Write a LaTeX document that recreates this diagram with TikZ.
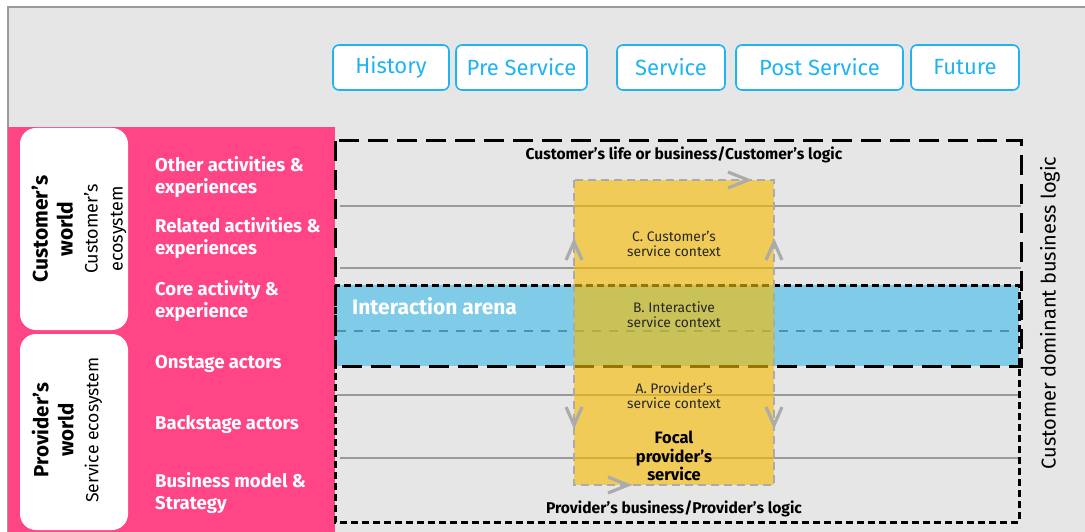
\documentclass[tikz,border=0pt]{standalone}
\usepackage{fontspec}
\setmainfont{Fira Sans}
\definecolor{bgc}{HTML}{E6E6E6}
\definecolor{pinkc}{HTML}{FF4586}
\definecolor{cyanc}{HTML}{1EB4F2}
\definecolor{bluec}{HTML}{80CCE8}
\definecolor{yelc}{HTML}{F7BC00}
\definecolor{greyc}{HTML}{ABABAB}
\definecolor{tealc}{HTML}{4B93AD}
\definecolor{linec}{HTML}{9A9A9A}
\tikzset{
  pinklabel/.style={text=white, font=\fontsize{18.5}{22}\selectfont\bfseries, anchor=west, align=left, inner sep=0pt},
  btn/.style={draw=cyanc, line width=1.6pt, fill=white, rounded corners=6pt, minimum height=45pt, text=cyanc, font=\fontsize{22}{26}\selectfont, inner sep=0pt},
  whitebox/.style={fill=white, rounded corners=16pt, inner sep=0pt},
  ctx/.style={font=\fontsize{13.8}{15}\selectfont, align=center, text=black!85, inner sep=0pt},
  gridline/.style={draw=linec, line width=1.4pt},
  longdash/.style={draw=black, line width=3pt, dash pattern=on 20pt off 9pt},
  shortdash/.style={draw=black, line width=3pt, dash pattern=on 7pt off 4pt},
  chevron/.style={draw=greyc, line width=3.2pt},
  logictext/.style={font=\fontsize{15.6}{18}\selectfont\bfseries, inner sep=0pt}
}
\begin{document}
\begin{tikzpicture}[x=1pt,y=-1pt]
\useasboundingbox (0,0) rectangle (1085,532);
\fill[white] (0,0) rectangle (1085,532);
\fill[bgc] (8,7) rectangle (1085,532);
\draw[linec, line width=1.5pt] (8,532) -- (8,7) -- (1085,7);

% pink side panel
\fill[pinkc] (8,127) rectangle (335,532);
\node[whitebox, minimum width=108pt, minimum height=202pt] (cbox) at (74,229) {};
\node[whitebox, minimum width=108pt, minimum height=196pt] (pbox) at (74,432) {};
\node[rotate=90, align=center, inner sep=0pt, font=\fontsize{21}{25}\selectfont] (ctitle) at (79,229)
  {\textbf{Customer’s}\\\textbf{world}\\\fontsize{18}{25}\selectfont Customer’s\\\fontsize{18}{22}\selectfont ecosystem};
\node[rotate=90, align=center, inner sep=0pt, font=\fontsize{20.5}{25}\selectfont] (ptitle) at (67,430)
  {\textbf{Provider’s}\\\textbf{world}\\\fontsize{17.6}{20}\selectfont Service ecosystem};

\node[pinklabel] (l1) at (155,177) {Other activities \&\\experiences};
\node[pinklabel] (l2) at (155,238) {Related activities \&\\experiences};
\node[pinklabel] (l3) at (155,301) {Core activity \&\\experience};
\node[pinklabel] (l4) at (155,364) {Onstage actors};
\node[pinklabel] (l5) at (155,425) {Backstage actors};
\node[pinklabel] (l6) at (155,493) {Business model \&\\Strategy};

% phase buttons
\node[btn, minimum width=116pt] (b1) at (391,67.5) {History};
\node[btn, minimum width=131pt] (b2) at (521.5,67.5) {Pre Service};
\node[btn, minimum width=108pt] (b3) at (671,67.5) {Service};
\node[btn, minimum width=167pt] (b4) at (819.5,67.5) {Post Service};
\node[btn, minimum width=108pt] (b5) at (965,67.5) {Future};

% grid lines
\draw[gridline] (340,206) -- (1021,206);
\draw[gridline] (340,268) -- (1021,268);
\draw[gridline] (337,395) -- (1021,395);
\draw[gridline] (340,458) -- (1021,458);

% interaction arena
\fill[bluec] (335,285) rectangle (1019,366);
\draw[tealc, line width=2pt, dash pattern=on 9pt off 8pt] (337,331) -- (1017,331);
\draw[longdash] (335,141) rectangle (1021,366);
\draw[shortdash] (335,285) rectangle (1019,522);

% focal service column
\fill[yelc, fill opacity=0.62] (574,180) rectangle (774,485);
\draw[greyc, line width=2.8pt, dash pattern=on 8pt off 5pt] (574,180) rectangle (774,485);
\draw[chevron] (728,172) -- (748,180) -- (728,188);
\draw[chevron] (608,477) -- (628,485) -- (608,493);
\draw[chevron] (566,260) -- (574,242) -- (582,260);
\draw[chevron] (766,260) -- (774,242) -- (782,260);
\draw[chevron] (566,407) -- (574,425) -- (582,407);
\draw[chevron] (766,407) -- (774,425) -- (782,407);

% texts
\node[logictext] (clogic) at (684,155) {Customer’s life or business/Customer’s logic};
\node[logictext] (plogic) at (674,509) {Provider’s business/Provider’s logic};
\node[ctx] (cctx) at (674,244) {C. Customer’s\\service context};
\node[ctx] (bctx) at (674,315) {B. Interactive\\service context};
\node[ctx] (actx) at (674,396) {A. Provider’s\\service context};
\node[ctx, font=\fontsize{16.5}{18.5}\selectfont\bfseries, text=black] (focal) at (674,456) {Focal\\provider’s\\service};
\node[anchor=west, inner sep=0pt, text=white, font=\fontsize{21}{24}\selectfont\bfseries] (arena) at (352,306) {Interaction arena};
\node[rotate=90, inner sep=0pt, font=\fontsize{20}{24}\selectfont] (cdbl) at (1050,313) {Customer dominant business logic};
\end{tikzpicture}
\end{document}
